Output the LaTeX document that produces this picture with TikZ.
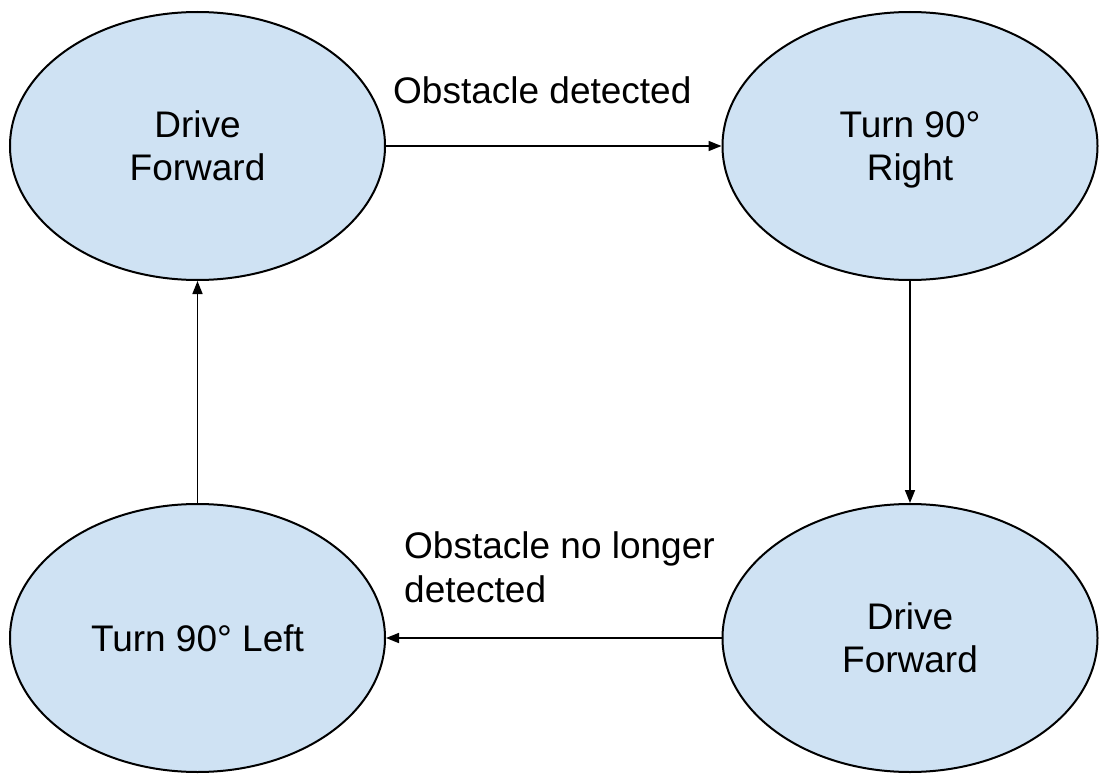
\documentclass[tikz,border=0pt]{standalone}
\usepackage{fontspec}
\setmainfont{Liberation Sans}
\usetikzlibrary{shapes.geometric,arrows.meta}
\definecolor{stfill}{HTML}{CFE2F3}
\tikzset{
  state/.style={ellipse, draw=black, line width=2pt, fill=stfill, minimum width=375pt, minimum height=268pt, inner sep=0pt, align=center, font=\fontsize{37}{43.5}\selectfont},
  conn/.style={line width=1.6pt, -{Triangle[length=13pt,width=10pt]}},
  lbl/.style={inner sep=0pt, align=left, font=\fontsize{37}{44}\selectfont}
}
\begin{document}
\begin{tikzpicture}[x=1pt,y=-1pt]
\useasboundingbox (0,0) rectangle (1112,784);
\node[state] (df1) at (197.5,146) {Drive\\Forward};
\node[state] (tr) at (910,146) {Turn 90°\\\raisebox{0pt}[\height][0pt]{Right}};
\node[state] (df2) at (910,638) {Drive\\Forward};
\node[state] (tl) at (197.5,638) {Turn 90° Left};
\draw[conn] (df1.east) -- (tr.west);
\draw[conn] (tr.south) -- (df2.north);
\draw[conn] (df2.west) -- (tl.east);
\draw[conn] (tl.north) -- (df1.south);
\node[lbl, anchor=base west] (l1) at (393,103) {Obstacle detected};
\node[lbl, anchor=base west] (l2) at (404,602) {Obstacle no longer\\detected};
\end{tikzpicture}
\end{document}
